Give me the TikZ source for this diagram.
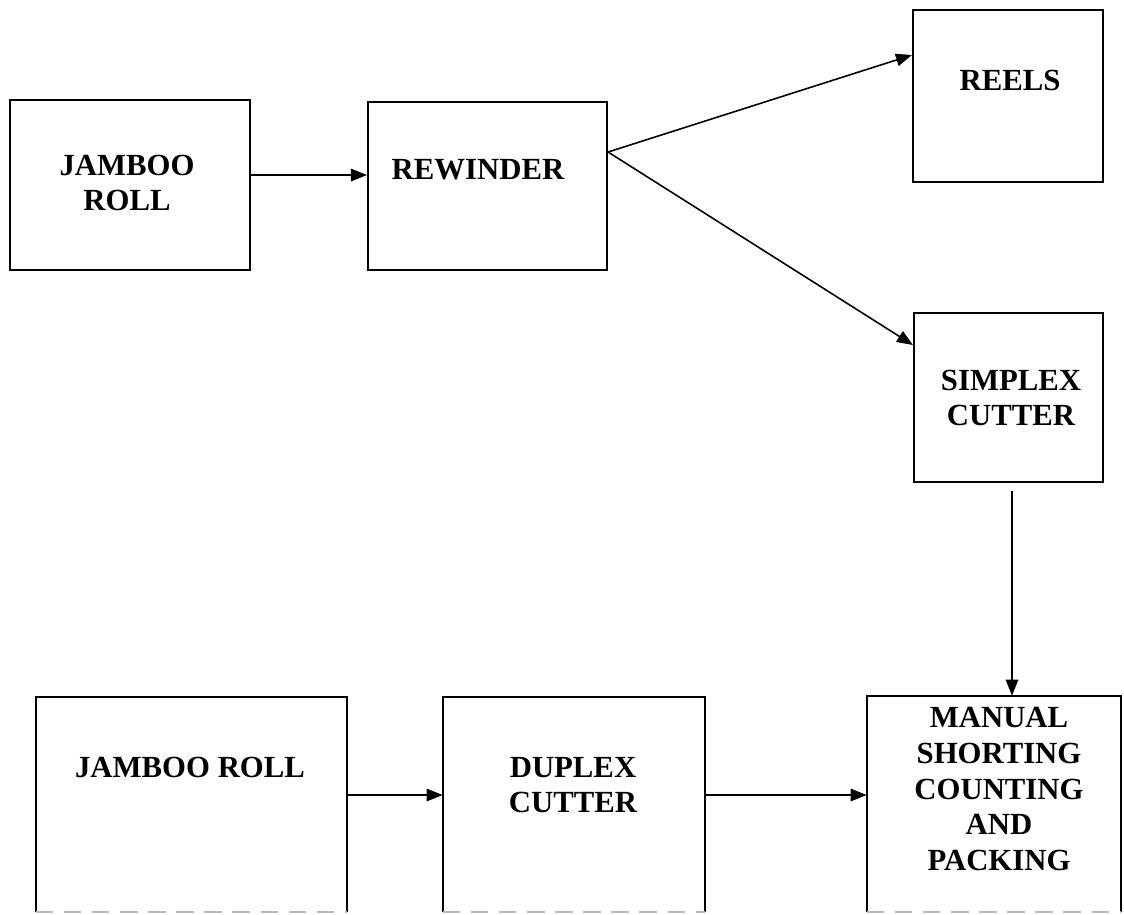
\documentclass[tikz,border=0pt]{standalone}
\usepackage{fontspec}
\setmainfont{Liberation Serif}
\usetikzlibrary{arrows.meta,fit,calc}
\begin{document}
\begin{tikzpicture}[x=0.02cm,y=-0.02cm,
  box/.style={draw=black,line width=1.2pt,inner sep=0pt},
  openbox/.style={inner sep=0pt},
  lbl/.style={font=\fontsize{17.5}{20.3}\selectfont\bfseries,align=center,inner sep=0pt},
  arr/.style={line width=0.9pt,-{Triangle[length=0.32cm,width=0.25cm]}}]
\useasboundingbox[fill=white] (0,0) rectangle (1124,914);
% boxes
\node[box,fit={(10,100) (250,270)}] (j1) {};
\node[box,fit={(368,102) (607,270)}] (rw) {};
\node[box,fit={(913,10) (1103,182)}] (reels) {};
\node[box,fit={(914,313) (1103,482)}] (simplex) {};
\node[openbox,fit={(36,697) (347,912)}] (j2) {};
\node[openbox,fit={(443,697) (705,912)}] (duplex) {};
\node[openbox,fit={(867,696) (1121,912)}] (manual) {};
\foreach \n in {j2,duplex,manual}{
  \draw[line width=1.2pt] (\n.south west) |- (\n.north east) -- (\n.south east);
  \draw[gray!55,line width=1pt,dash pattern=on 10pt off 6pt] (\n.south west) -- (\n.south east);
}
% labels
\node[lbl] (t1) at (127,183) {JAMBOO\\ROLL};
\node[lbl] (t2) at (478,170) {REWINDER};
\node[lbl] (t3) at (1010,80) {REELS};
\node[lbl] (t4) at (1011,398) {SIMPLEX\\CUTTER};
\node[lbl] (t5) at (190,767) {JAMBOO ROLL};
\node[lbl] (t6) at (573,785) {DUPLEX\\CUTTER};
\node[lbl] (t7) at (999,789) {MANUAL\\SHORTING\\COUNTING\\AND\\PACKING};
% connectors
\coordinate (fork) at ([yshift=0.68cm]rw.east);
\draw[arr] ([yshift=0.2cm]j1.east) -- ([yshift=0.2cm]j1.east -| rw.west);
\draw[arr] (fork) -- ([yshift=0.82cm]reels.west);
\draw[arr] (fork) -- ([yshift=1.05cm]simplex.west);
\draw[arr] ([xshift=0.07cm,yshift=-0.16cm]simplex.south) -- ([xshift=0.07cm]simplex.south |- manual.north);
\draw[arr] ([yshift=0.19cm]j2.east) -- ([yshift=0.19cm]j2.east -| duplex.west);
\draw[arr] ([yshift=0.19cm]j2.east -| duplex.east) -- ([yshift=0.19cm]j2.east -| manual.west);
\end{tikzpicture}
\end{document}
